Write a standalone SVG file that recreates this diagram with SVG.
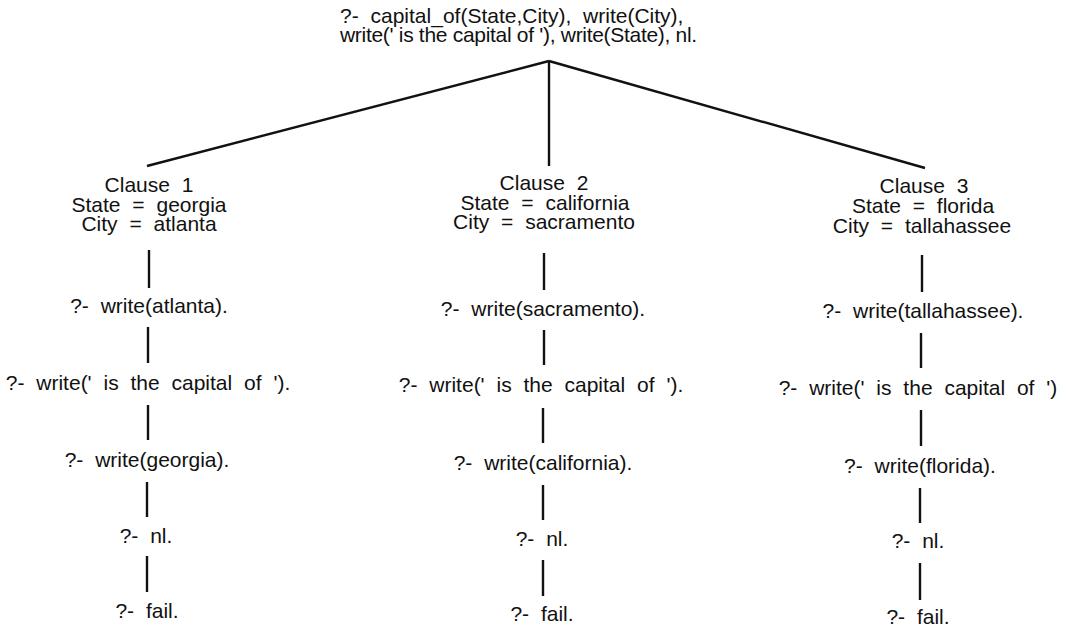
<svg xmlns="http://www.w3.org/2000/svg" width="1072" height="631" viewBox="0 0 1072 631">
  <style>
    text { font-family: "Liberation Sans", Arial, sans-serif; font-size: 21px; fill: #111; word-spacing: 6px; }
    .c { text-anchor: middle; }
    .tight { word-spacing: 0px; letter-spacing: -0.3px; }
    .edge { stroke: #111; stroke-width: 2.4; fill: none; stroke-linecap: butt; }
  </style>
  <rect width="1072" height="631" fill="#fff"/>

  <!-- query at the root -->
  <g id="root">
    <text x="340" y="23">?- capital_of(State,City), write(City),</text>
    <text class="tight" x="340" y="42">write(' is the capital of '), write(State), nl.</text>
  </g>

  <!-- branch and chain connectors -->
  <g id="connectors">
    <line class="edge" x1="549" y1="61" x2="147" y2="166"/>
    <line class="edge" x1="549" y1="61" x2="549" y2="166"/>
    <line class="edge" x1="549" y1="61" x2="925" y2="168"/>

    <line class="edge" x1="149" y1="250" x2="149" y2="288"/>
    <line class="edge" x1="148" y1="327" x2="148" y2="363"/>
    <line class="edge" x1="148" y1="405" x2="148" y2="440"/>
    <line class="edge" x1="147" y1="482" x2="147" y2="517"/>
    <line class="edge" x1="147" y1="556" x2="147" y2="592"/>

    <line class="edge" x1="544" y1="253" x2="544" y2="290"/>
    <line class="edge" x1="544" y1="330" x2="544" y2="365"/>
    <line class="edge" x1="543" y1="408" x2="543" y2="443"/>
    <line class="edge" x1="543" y1="485" x2="543" y2="520"/>
    <line class="edge" x1="543" y1="560" x2="543" y2="596"/>

    <line class="edge" x1="922" y1="255" x2="922" y2="292"/>
    <line class="edge" x1="921" y1="333" x2="921" y2="368"/>
    <line class="edge" x1="921" y1="410" x2="921" y2="446"/>
    <line class="edge" x1="920" y1="488" x2="920" y2="523"/>
    <line class="edge" x1="920" y1="563" x2="920" y2="600"/>
  </g>

  <!-- clause 1 branch -->
  <g id="clause1">
    <text class="c" x="149" y="192">Clause 1</text>
    <text class="c" x="149" y="212">State = georgia</text>
    <text class="c" x="149" y="231">City = atlanta</text>
  </g>
  <g id="c1-goal1"><text class="c" x="149" y="313">?- write(atlanta).</text></g>
  <g id="c1-goal2"><text class="c" x="148" y="390">?- write(' is the capital of ').</text></g>
  <g id="c1-goal3"><text class="c" x="147" y="467">?- write(georgia).</text></g>
  <g id="c1-goal4"><text class="c" x="146" y="543">?- nl.</text></g>
  <g id="c1-goal5"><text class="c" x="147" y="618">?- fail.</text></g>

  <!-- clause 2 branch -->
  <g id="clause2">
    <text class="c" x="544" y="190">Clause 2</text>
    <text class="c" x="545" y="210">State = california</text>
    <text class="c" x="544" y="229">City = sacramento</text>
  </g>
  <g id="c2-goal1"><text class="c" x="543" y="316">?- write(sacramento).</text></g>
  <g id="c2-goal2"><text class="c" x="541" y="392">?- write(' is the capital of ').</text></g>
  <g id="c2-goal3"><text class="c" x="543" y="470">?- write(california).</text></g>
  <g id="c2-goal4"><text class="c" x="542" y="546">?- nl.</text></g>
  <g id="c2-goal5"><text class="c" x="542" y="621">?- fail.</text></g>

  <!-- clause 3 branch -->
  <g id="clause3">
    <text class="c" x="924" y="193">Clause 3</text>
    <text class="c" x="923" y="213">State = florida</text>
    <text class="c" x="922" y="233">City = tallahassee</text>
  </g>
  <g id="c3-goal1"><text class="c" x="923" y="318">?- write(tallahassee).</text></g>
  <g id="c3-goal2"><text class="c" x="918" y="395">?- write(' is the capital of ')</text></g>
  <g id="c3-goal3"><text class="c" x="920" y="473">?- write(florida).</text></g>
  <g id="c3-goal4"><text class="c" x="918" y="548">?- nl.</text></g>
  <g id="c3-goal5"><text class="c" x="918" y="624">?- fail.</text></g>
</svg>
